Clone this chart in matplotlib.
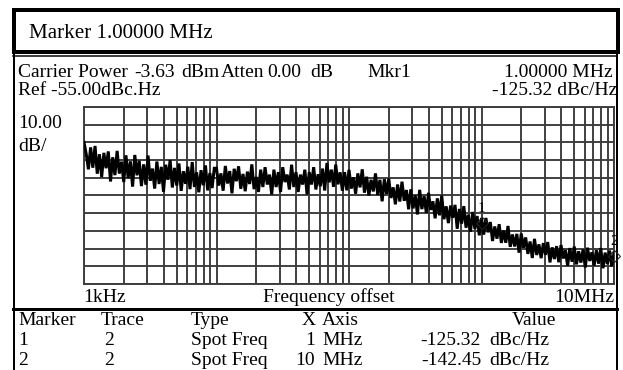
import numpy as np
import matplotlib
matplotlib.use("Agg")
import matplotlib.pyplot as plt
from matplotlib.patches import Rectangle

# ---------------- data ----------------
f_start, f_stop = 1e3, 1e7
ref_level = -55.0
db_per_div = 10.0
n_div = 10

trace_db = [
    # 1 kHz - 10 kHz
    -75.0, -81.5, -90.2, -77.8, -89.3, -77.0, -92.7, -81.7, -94.6, -80.9,
    -89.6, -80.1, -97.1, -83.4, -93.5, -79.8, -92.6, -85.9, -97.4, -82.3,
    -95.2, -85.7, -100.0, -82.1, -93.6, -85.4, -99.7, -87.4, -98.9, -82.4,
    -96.7, -89.8, -101.1, -85.8, -98.5, -88.8, -102.9, -87.6, -96.1, -85.0,
    -100.5, -89.4, -99.4, -86.9, -102.4, -91.3, -98.4, -88.7, -101.4, -86.1,
    -100.2, -91.9, -103.2, -90.7, -99.2, -88.0, -102.1, -92.3, -100.8, -89.6,
    # 10 kHz - 100 kHz
    -89.6, -99.4, -92.5, -102.3, -88.3, -98.2, -91.2, -103.8, -89.9, -96.9,
    -88.5, -101.2, -92.8, -102.6, -91.5, -98.5, -87.4, -101.4, -94.5, -103.0,
    -90.4, -100.2, -89.0, -98.8, -93.2, -104.4, -90.4, -100.2, -91.8, -103.0,
    -89.0, -97.4, -93.2, -101.6, -87.6, -100.2, -91.8, -103.0, -93.2, -98.8,
    -90.4, -104.4, -91.8, -98.8, -89.0, -101.6, -93.0, -99.8, -89.8, -102.2,
    -86.6, -97.6, -90.4, -100.1, -87.5, -98.7, -91.9, -102.3, -91.8, -102.1,
    # 100 kHz - 1 MHz
    -90.5, -101.1, -94.7, -104.0, -92.5, -100.4, -90.2, -103.4, -94.4, -105.0,
    -96.1, -102.7, -92.5, -104.7, -96.1, -108.3, -95.8, -104.1, -95.5, -106.4,
    -100.4, -110.0, -98.8, -108.4, -97.2, -108.0, -101.9, -112.8, -101.5, -112.3,
    -104.9, -115.7, -101.8, -112.7, -105.3, -114.8, -103.5, -113.1, -108.3, -117.9,
    -106.6, -116.2, -105.0, -118.4, -111.1, -120.6, -110.7, -117.6, -110.3, -123.8,
    -112.6, -120.9, -111.0, -123.2, -115.9, -125.5, -114.3, -123.9, -116.6, -127.5,
    # 1 MHz - 10 MHz
    -117.7, -127.1, -117.7, -125.8, -120.0, -130.7, -122.5, -129.4, -121.2, -131.8,
    -124.8, -131.7, -122.2, -134.0, -127.0, -133.8, -126.7, -137.3, -126.5, -134.5,
    -128.7, -138.0, -131.0, -140.3, -129.5, -138.6, -132.6, -140.4, -131.9, -138.5,
    -131.3, -142.8, -134.3, -140.9, -133.6, -142.7, -133.0, -140.6, -135.8, -144.7,
    -134.7, -142.4, -133.8, -143.9, -136.5, -142.9, -135.5, -145.7, -134.5, -142.0,
    -137.1, -144.6, -135.9, -143.5, -134.7, -146.1, -137.3, -143.7, -136.1, -145.0,
    -137.5,
]

marker_ids = ["1", "2"]
marker_freq = [1e6, 1e7]
marker_db = [-120.5, -139.3]

header_text = "Marker 1.00000 MHz"
table_cols = ["Marker", "Trace", "Type", "X", "Axis", "Value"]
table_rows = [
    ["1", "2", "Spot Freq", "1", "MHz", "-125.32", "dBc/Hz"],
    ["2", "2", "Spot Freq", "10", "MHz", "-142.45", "dBc/Hz"],
]

# ---------------- figure ----------------
plt.rcParams['font.family'] = ['Liberation Serif', 'DejaVu Serif']
W, H = 623, 370
fig = plt.figure(figsize=(W / 100, H / 100), dpi=100)
PX = 0.72  # points per pixel at 100 dpi

bg = fig.add_axes([0, 0, 1, 1])
bg.set_xlim(0, W)
bg.set_ylim(H, 0)
bg.axis('off')

# top box (thick border)
bg.add_patch(Rectangle((14, 10), 604, 42, fill=False, lw=4 * PX, ec='black'))
# lower panel borders
bg.plot([13.5, 13.5], [55, H + 2], color='black', lw=2 * PX)
bg.plot([616.5, 616.5], [55, H + 2], color='black', lw=2 * PX)
bg.plot([13, 617], [55.5, 55.5], color='black', lw=1.5 * PX)
bg.plot([13, 617], [308.5, 308.5], color='black', lw=3 * PX)

fs_big = 21 * PX
fs = 19.5 * PX
fs_tab = 19.5 * PX

def txt(x, y, s, size=fs, ha='left'):
    bg.text(x, y, s, fontsize=size, va='baseline', ha=ha)

txt(29, 38, header_text, fs_big)

y1, y2 = 77, 95
txt(18, y1, "Carrier Power")
txt(134, y1, "-3.63")
txt(181, y1, "dBm")
txt(221, y1, "Atten")
txt(267, y1, "0.00")
txt(310, y1, "dB")
txt(367, y1, "Mkr1")
txt(613, y1, "1.00000 MHz", ha='right')
txt(18, y2, "Ref -55.00dBc.Hz")
txt(617, y2, "-125.32 dBc/Hz", ha='right')
txt(18, 128, "10.00")
txt(18, 151, "dB/")

ya = 302
txt(83, ya, "1kHz")
txt(329, ya, "Frequency offset", ha='center')
txt(614, ya, "10MHz", ha='right')

# table
yh, r1, r2 = 325, 345, 365
col_x = [18, 101, 191, 302, 322, 512]
for x, t in zip(col_x, table_cols):
    txt(x, yh, t, fs_tab)
for yy, row in zip([r1, r2], table_rows):
    txt(18, yy, row[0], fs_tab)
    txt(104, yy, row[1], fs_tab)
    txt(191, yy, row[2], fs_tab)
    txt(315, yy, row[3], fs_tab, ha='right')
    txt(322, yy, row[4], fs_tab)
    txt(481, yy, row[5], fs_tab, ha='right')
    txt(489, yy, row[6], fs_tab)

# ---------------- plot area ----------------
L, R, T, B = 84, 614, 107, 284
ax = fig.add_axes([L / W, 1 - B / H, (R - L) / W, (B - T) / H])
ax.set_xscale('log')
ax.set_xlim(f_start, f_stop)
bottom = ref_level - n_div * db_per_div
ax.set_ylim(bottom, ref_level)
ax.set_yticks(np.arange(bottom, ref_level + 1, db_per_div))
decades = np.arange(np.log10(f_start), np.log10(f_stop) + 1)
ax.set_xticks(10 ** decades)
minor = [m * 10 ** d for d in decades[:-1] for m in range(2, 10)]
ax.set_xticks(minor, minor=True)
ax.tick_params(which='both', length=0, labelbottom=False, labelleft=False)
gcol = '#3c3c3c'
ax.grid(True, which='both', color=gcol, lw=1.9 * PX)
for s in ax.spines.values():
    s.set_color(gcol)
    s.set_linewidth(1.9 * PX)
ax.set_facecolor('white')

freq = np.logspace(np.log10(f_start), np.log10(f_stop), len(trace_db))
ax.plot(freq, trace_db, color='black', lw=3.0 * PX, zorder=3,
        solid_joinstyle='miter')

ax.plot(marker_freq, marker_db, ls='none', marker='D', ms=6, mfc='none',
        mec='#222222', mew=0.8, zorder=4, clip_on=False)
for mid, mf, md in zip(marker_ids, marker_freq, marker_db):
    ax.annotate(mid, (mf, md), xytext=(0, 6), textcoords='offset points',
                ha='center', va='bottom', fontsize=15 * PX, zorder=5,
                annotation_clip=False)

fig.savefig("out.png", dpi=100)
